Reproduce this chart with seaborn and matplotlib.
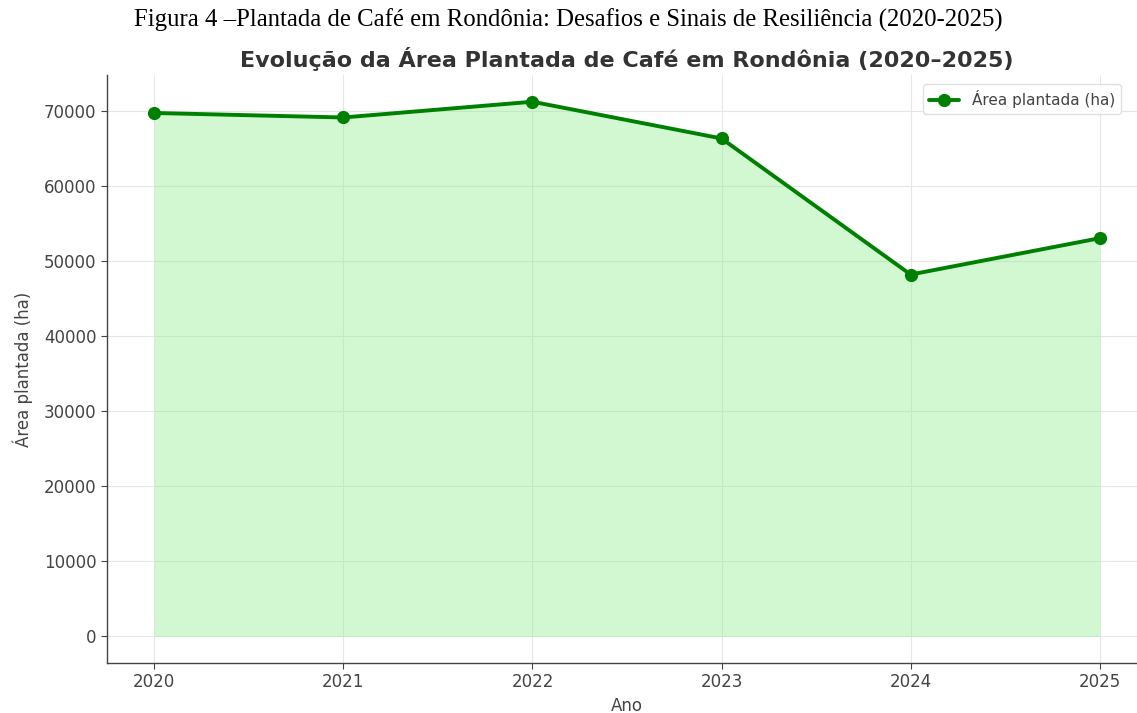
import numpy as np
import pandas as pd
import matplotlib
matplotlib.use("Agg")
import matplotlib.pyplot as plt
import seaborn as sns

sns.set_style("whitegrid")
plt.rcParams["font.family"] = ["DejaVu Sans"]

# Data
anos = [2020, 2021, 2022, 2023, 2024, 2025]
area_plantada = [69800, 69200, 71300, 66400, 48250, 53100]

df = pd.DataFrame({"Ano": anos, "Area": area_plantada})

fig = plt.figure(figsize=(11.37, 7.13), dpi=100)
# axes runs a little past the right edge, as in the reference (cropped image)
ax = fig.add_axes([107 / 1137, 1 - 663 / 713, (1147 - 107) / 1137, (663 - 75) / 713])

# Fill under the line
ax.fill_between(df["Ano"], df["Area"], color="lightgreen", alpha=0.4, linewidth=0)

# Line with markers
sns.lineplot(data=df, x="Ano", y="Area", marker="o", color="green",
             linewidth=2.8, markersize=9.5, markeredgewidth=0,
             label="Área plantada (ha)", ax=ax)

ax.set_xlim(2019.75, 2025.25)
ax.set_xticks(anos)
ax.set_xlabel("Ano", fontsize=12, color="#444444")
ax.set_ylabel("Área plantada (ha)", fontsize=12, color="#444444", labelpad=8)
ax.tick_params(axis="both", labelsize=12, colors="#444444", length=4, width=0.8,
               direction="out", bottom=True, left=True)
ax.grid(True, color="#e6e6e6", linewidth=0.8)

for s in ["top", "right"]:
    ax.spines[s].set_visible(False)
for s in ["left", "bottom"]:
    ax.spines[s].set_color("#444444")
    ax.spines[s].set_linewidth(1.0)

ax.legend(loc="upper right", bbox_to_anchor=(1121 / 1137, 1 - 84 / 713),
          bbox_transform=fig.transFigure, fontsize=11, frameon=True, framealpha=0.9,
          edgecolor="#dddddd", labelcolor="#444444", borderaxespad=0)

ax.set_title("Evolução da Área Plantada de Café em Rondônia (2020–2025)",
             fontsize=16, fontweight="bold", color="#333333", pad=6)

# Figure caption
fig.text(0.5, 1 - 20 / 713,
         "Figura 4 –Plantada de Café em Rondônia: Desafios e Sinais de Resiliência (2020-2025)",
         ha="center", va="center", fontsize=17.8, family="Liberation Serif", color="black")

fig.savefig("out.png", dpi=100)
